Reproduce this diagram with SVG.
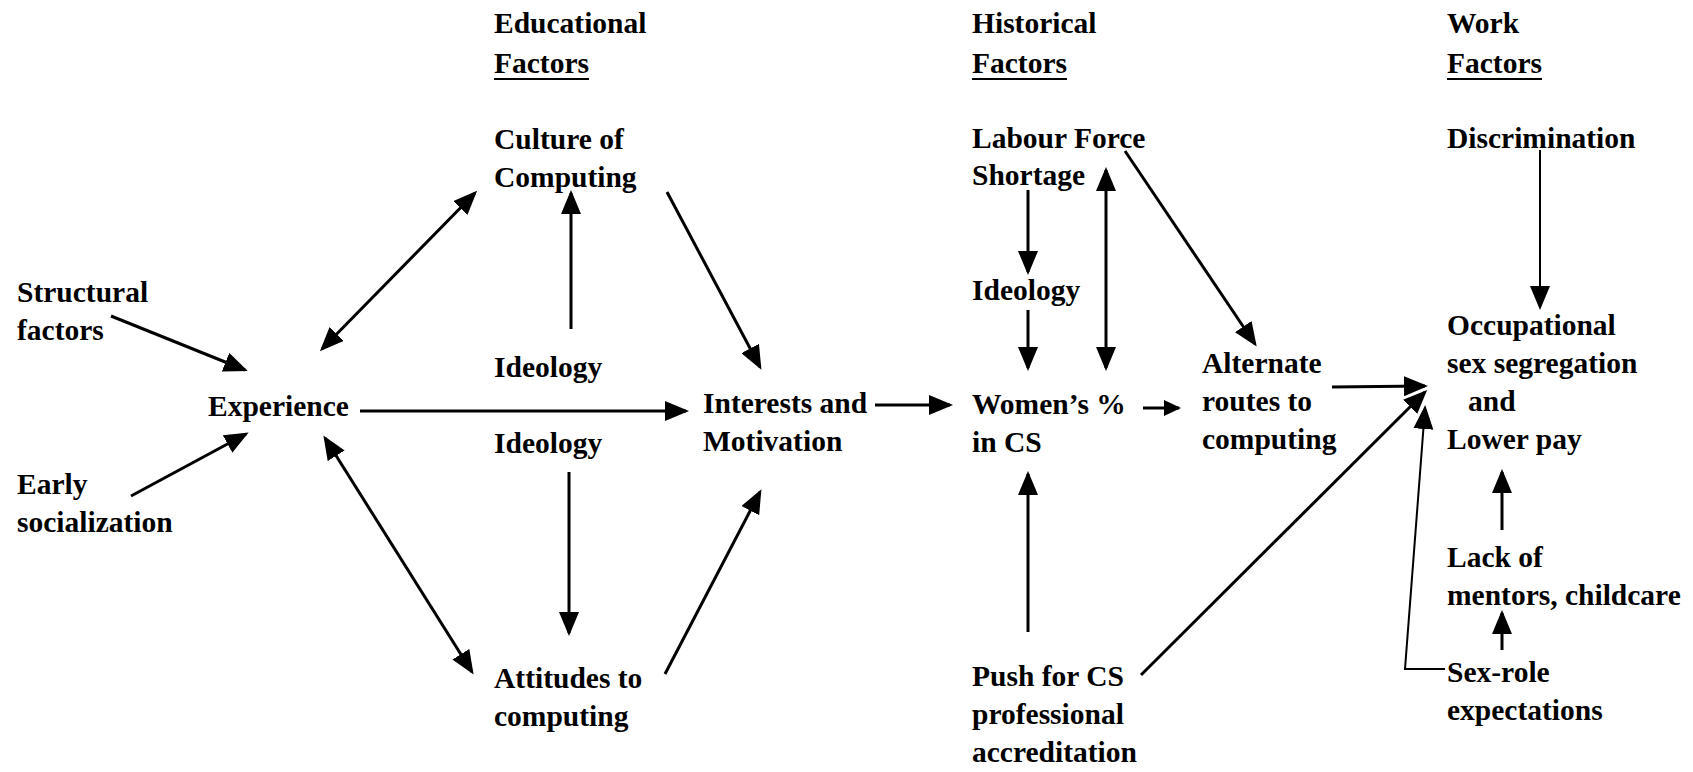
<svg xmlns="http://www.w3.org/2000/svg" width="1693" height="772" viewBox="0 0 1693 772">
  <style>
    text { font-family: "Liberation Serif", "Times New Roman", serif; font-weight: bold; font-size: 29.5px; fill: #000; }
    .edge { fill: none; stroke: #000; stroke-width: 3; }
    .thin { stroke-width: 2; }
    .rule { stroke: #000; stroke-width: 2; }
  </style>
  <defs>
    <marker id="head" markerUnits="userSpaceOnUse" markerWidth="24" markerHeight="20" refX="21" refY="10" orient="auto-start-reverse">
      <path d="M0,0 L24,10 L0,20 Z" fill="#000"/>
    </marker>
    <marker id="head-sm" markerUnits="userSpaceOnUse" markerWidth="17" markerHeight="16" refX="15" refY="8" orient="auto">
      <path d="M0,0 L17,8 L0,16 Z" fill="#000"/>
    </marker>
  </defs>

  <rect width="1693" height="772" fill="#fff"/>

  <!-- column headings -->
  <g id="heading-educational">
    <text x="494" y="33">Educational</text>
    <text x="494" y="73">Factors</text>
    <line class="rule" x1="494" y1="79" x2="589" y2="79"/>
  </g>
  <g id="heading-historical">
    <text x="972" y="33">Historical</text>
    <text x="972" y="73">Factors</text>
    <line class="rule" x1="972" y1="79" x2="1067" y2="79"/>
  </g>
  <g id="heading-work">
    <text x="1447" y="33">Work</text>
    <text x="1447" y="73">Factors</text>
    <line class="rule" x1="1447" y1="79" x2="1542" y2="79"/>
  </g>

  <!-- nodes -->
  <g id="structural-factors">
    <text x="17" y="302">Structural</text>
    <text x="17" y="340">factors</text>
  </g>
  <g id="experience">
    <text x="208" y="416">Experience</text>
  </g>
  <g id="early-socialization">
    <text x="17" y="494">Early</text>
    <text x="17" y="532">socialization</text>
  </g>
  <g id="culture-of-computing">
    <text x="494" y="149">Culture of</text>
    <text x="494" y="187">Computing</text>
  </g>
  <g id="ideology-edu-upper">
    <text x="494" y="377">Ideology</text>
  </g>
  <g id="ideology-edu-lower">
    <text x="494" y="453">Ideology</text>
  </g>
  <g id="attitudes-to-computing">
    <text x="494" y="688">Attitudes to</text>
    <text x="494" y="726">computing</text>
  </g>
  <g id="interests-motivation">
    <text x="703" y="413">Interests and</text>
    <text x="703" y="451">Motivation</text>
  </g>
  <g id="labour-force-shortage">
    <text x="972" y="148">Labour Force</text>
    <text x="972" y="185">Shortage</text>
  </g>
  <g id="ideology-historical">
    <text x="972" y="300">Ideology</text>
  </g>
  <g id="womens-share">
    <text x="972" y="414">Women’s %</text>
    <text x="972" y="452">in CS</text>
  </g>
  <g id="push-accreditation">
    <text x="972" y="686">Push for CS</text>
    <text x="972" y="724">professional</text>
    <text x="972" y="762">accreditation</text>
  </g>
  <g id="alternate-routes">
    <text x="1202" y="373">Alternate</text>
    <text x="1202" y="411">routes to</text>
    <text x="1202" y="449">computing</text>
  </g>
  <g id="discrimination">
    <text x="1447" y="148">Discrimination</text>
  </g>
  <g id="occupational-segregation">
    <text x="1447" y="335">Occupational</text>
    <text x="1447" y="373">sex segregation</text>
    <text x="1468" y="411">and</text>
    <text x="1447" y="449">Lower pay</text>
  </g>
  <g id="lack-of-mentors">
    <text x="1447" y="567">Lack of</text>
    <text x="1447" y="605">mentors, childcare</text>
  </g>
  <g id="sex-role-expectations">
    <text x="1447" y="682">Sex-role</text>
    <text x="1447" y="720">expectations</text>
  </g>

  <!-- connectors -->
  <g id="connectors">
    <path class="edge" d="M111,316 L245,370" marker-end="url(#head)"/>
    <path class="edge" d="M131,496 L246,434" marker-end="url(#head)"/>
    <path class="edge" d="M322,349 L475,193" marker-start="url(#head)" marker-end="url(#head)"/>
    <path class="edge" d="M325,438 L472,672" marker-start="url(#head)" marker-end="url(#head)"/>
    <path class="edge" d="M360,411 L686,411" marker-end="url(#head)"/>
    <path class="edge" d="M571,329 L571,193" marker-end="url(#head)"/>
    <path class="edge" d="M569,472 L569,633" marker-end="url(#head)"/>
    <path class="edge" d="M667,192 L760,367" marker-end="url(#head)"/>
    <path class="edge" d="M665,674 L760,492" marker-end="url(#head)"/>
    <path class="edge" d="M875,405 L950,405" marker-end="url(#head)"/>
    <path class="edge" d="M1028,190 L1028,272" marker-end="url(#head)"/>
    <path class="edge" d="M1028,310 L1028,368" marker-end="url(#head)"/>
    <path class="edge" d="M1106,170 L1106,368" marker-start="url(#head)" marker-end="url(#head)"/>
    <path class="edge" d="M1125,151 L1255,344" marker-end="url(#head)"/>
    <path class="edge" d="M1143,408 L1179,408" marker-end="url(#head-sm)"/>
    <path class="edge" d="M1028,632 L1028,474" marker-end="url(#head)"/>
    <path class="edge" d="M1332,387 L1425,386" marker-end="url(#head)"/>
    <path class="edge" d="M1141,675 L1425,392" marker-end="url(#head)"/>
    <path class="edge thin" d="M1445,669 L1405,669 L1425,408" marker-end="url(#head)"/>
    <path class="edge thin" d="M1540,150 L1540,307" marker-end="url(#head)"/>
    <path class="edge" d="M1502,530 L1502,472" marker-end="url(#head)"/>
    <path class="edge" d="M1502,650 L1502,613" marker-end="url(#head)"/>
  </g>
</svg>
